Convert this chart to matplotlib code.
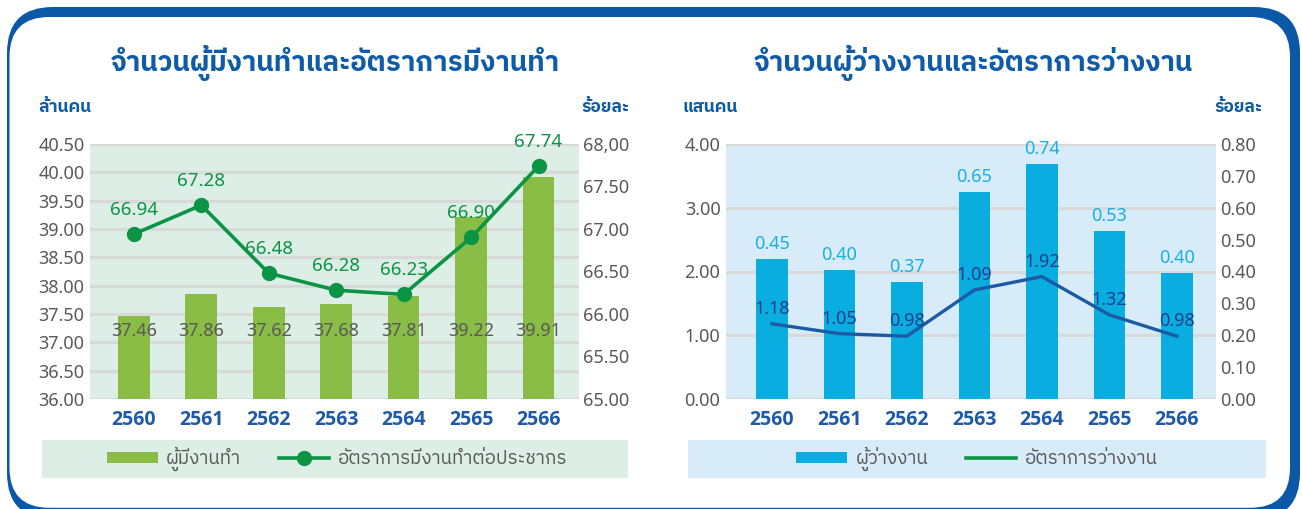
import matplotlib
matplotlib.use('Agg')
import matplotlib.pyplot as plt
import matplotlib.transforms as mtransforms
from matplotlib.patches import FancyBboxPatch, Rectangle, Patch
from matplotlib.lines import Line2D
from matplotlib import font_manager as fm
from matplotlib.ft2font import FT2Font

# ---------------- data ----------------
years = ['2560', '2561', '2562', '2563', '2564', '2565', '2566']

employed = [37.46, 37.86, 37.62, 37.68, 37.81, 39.22, 39.91]          # ล้านคน
employed_labels = ['37.46', '37.86', '37.62', '37.68', '37.81', '39.22', '39.91']
employment_rate = [66.94, 67.28, 66.48, 66.28, 66.23, 66.90, 67.74]   # ร้อยละ
employment_rate_labels = ['66.94', '67.28', '66.48', '66.28', '66.23', '66.90', '67.74']

unemployed = [2.19, 2.02, 1.83, 3.24, 3.69, 2.63, 1.98]               # แสนคน (bar heights)
unemployed_labels = ['0.45', '0.40', '0.37', '0.65', '0.74', '0.53', '0.40']
unemp_rate = [0.236, 0.205, 0.197, 0.342, 0.384, 0.264, 0.197]       # line on right axis
unemp_rate_labels = ['1.18', '1.05', '0.98', '1.09', '1.92', '1.32', '0.98']

left_y1_ticks = [36.0, 36.5, 37.0, 37.5, 38.0, 38.5, 39.0, 39.5, 40.0, 40.5]
left_y1_labels = ['36.00', '36.50', '37.00', '37.50', '38.00', '38.50', '39.00', '39.50', '40.00', '40.50']
left_y2_ticks = [65.0, 65.5, 66.0, 66.5, 67.0, 67.5, 68.0]
left_y2_labels = ['65.00', '65.50', '66.00', '66.50', '67.00', '67.50', '68,00']

right_y1_ticks = [0, 1, 2, 3, 4]
right_y1_labels = ['0.00', '1.00', '2.00', '3.00', '4.00']
right_y2_ticks = [0.0, 0.1, 0.2, 0.3, 0.4, 0.5, 0.6, 0.7, 0.8]
right_y2_labels = ['0.00', '0.10', '0.20', '0.30', '0.40', '0.50', '0.60', '0.70', '0.80']

title_left = 'จำนวนผู้มีงานทำและอัตราการมีงานทำ'
title_right = 'จำนวนผู้ว่างงานและอัตราการว่างงาน'
unit_left1 = 'ล้านคน'
unit_right1 = 'แสนคน'
unit_pct = 'ร้อยละ'
leg_left = ['ผู้มีงานทำ', 'อัตราการมีงานทำต่อประชากร']
leg_right = ['ผู้ว่างงาน', 'อัตราการว่างงาน']

# ---------------- fonts ----------------
thai_fonts = []
for f in fm.fontManager.ttflist:
    try:
        ft = FT2Font(f.fname)
        if ft.get_char_index(0x0E01) and ft.get_char_index(0x0E33):
            thai_fonts.append(f.name)
    except Exception:
        pass
pref = [n for n in thai_fonts if 'Thai' in n and 'Looped' not in n] + thai_fonts
fam = []
if pref:
    fam.append(pref[0])
fam += ['Noto Sans', 'DejaVu Sans']
num_fam = ['Noto Sans', 'DejaVu Sans']
bold_num_fam = ['Open Sans', 'DejaVu Sans']
plt.rcParams['font.family'] = fam

# ---------------- colors ----------------
BLUE = '#0E5CA8'
GREY = '#595959'
GRID = '#D9D9D9'
L_BG = '#DDEEE7'
L_BAR = '#8ABD45'
L_LINE = '#0B9444'
R_BG = '#D7ECF8'
R_BAR = '#0AADE0'
R_BARLBL = '#1AAFE3'
R_LINE = '#1B5BA5'
R_LINELBL = '#1F3F8F'
XTICK = '#1F5AA6'

W, H = 1302, 509
fig = plt.figure(figsize=(W / 100, H / 100), dpi=100)

# background / frame in pixel coords
bg = fig.add_axes([0, 0, 1, 1], zorder=-10)
bg.set_xlim(0, W)
bg.set_ylim(H, 0)
bg.axis('off')
bg.add_patch(FancyBboxPatch((7, 7), 1293, 512, boxstyle='round,pad=0,rounding_size=46',
                            fc='#0B58A6', ec='none'))
bg.add_patch(FancyBboxPatch((9.5, 17), 1280.5, 490.8, boxstyle='round,pad=0,rounding_size=40',
                            fc='white', ec='none'))
bg.add_patch(Rectangle((42, 440), 586, 38, fc=L_BG, ec='none'))
bg.add_patch(Rectangle((688, 440), 578, 38, fc=R_BG, ec='none'))

bg.text(335, 63, title_left, ha='center', va='center', fontsize=20, fontweight='bold', color=BLUE)
bg.text(973, 63, title_right, ha='center', va='center', fontsize=20, fontweight='bold', color=BLUE)
bg.text(38, 107, unit_left1, ha='left', va='center', fontsize=12.5, fontweight='bold', color=BLUE)
bg.text(629, 107, unit_pct, ha='right', va='center', fontsize=12.5, fontweight='bold', color=BLUE)
bg.text(683, 107, unit_right1, ha='left', va='center', fontsize=12.5, fontweight='bold', color=BLUE)
bg.text(1262, 107, unit_pct, ha='right', va='center', fontsize=12.5, fontweight='bold', color=BLUE)


def px_axes(x0, x1, y0, y1):
    return fig.add_axes([x0 / W, 1 - y1 / H, (x1 - x0) / W, (y1 - y0) / H])


def style(ax, ax2, t1, l1, t2, l2, facecolor):
    ax.set_facecolor(facecolor)
    for a in (ax, ax2):
        for s in a.spines.values():
            s.set_visible(False)
        a.tick_params(length=0, labelsize=13, labelcolor=GREY)
    ax.tick_params(axis='y', pad=4)
    ax2.tick_params(axis='y', pad=3)
    ax.tick_params(axis='x', pad=8)
    ax.set_yticks(t1)
    ax.set_yticklabels(l1, fontfamily=num_fam)
    ax2.set_yticks(t2)
    ax2.set_yticklabels(l2, fontfamily=num_fam)
    ax.set_ylim(t1[0], t1[-1])
    ax2.set_ylim(t2[0], t2[-1])
    ax.yaxis.grid(True, color=GRID, lw=2.2)
    ax.set_axisbelow(True)
    ax.set_xticks(range(len(years)))
    ax.set_xticklabels(years, fontsize=14, fontweight='bold', color=XTICK,
                       fontfamily=bold_num_fam)


x = list(range(len(years)))

# ---------------- left chart ----------------
axL = px_axes(90, 579, 144, 399)
axL2 = axL.twinx()
style(axL, axL2, left_y1_ticks, left_y1_labels, left_y2_ticks, left_y2_labels, L_BG)
axL.bar(x, [v - 36.0 for v in employed], bottom=36.0, width=0.47, color=L_BAR, zorder=2)
axL.set_xlim(-0.65, 6.6)
trL = mtransforms.blended_transform_factory(axL.transData, axL.transAxes)
for xi, lbl in zip(x, employed_labels):
    axL.text(xi, 0.267, lbl, transform=trL, ha='center', va='center', fontsize=13,
             color=GREY, fontfamily=num_fam, zorder=4)
axL2.plot(x, employment_rate, color=L_LINE, lw=2.6, marker='o', ms=10, zorder=3)
for xi, v, lbl in zip(x, employment_rate, employment_rate_labels):
    axL2.annotate(lbl, (xi, v), xytext=(0, 24), textcoords='offset pixels', ha='center',
                  va='center', fontsize=13.5, color=L_LINE, fontfamily=num_fam)

# ---------------- right chart ----------------
axR = px_axes(726, 1216, 144, 399)
axR2 = axR.twinx()
style(axR, axR2, right_y1_ticks, right_y1_labels, right_y2_ticks, right_y2_labels, R_BG)
axR.bar(x, unemployed, width=0.47, color=R_BAR, zorder=2)
axR.set_xlim(-0.68, 6.58)
for xi, v, lbl in zip(x, unemployed, unemployed_labels):
    axR.annotate(lbl, (xi, v), xytext=(0, 15), textcoords='offset pixels', ha='center',
                 va='center', fontsize=13, color=R_BARLBL, fontfamily=num_fam)
axR2.plot(x, unemp_rate, color=R_LINE, lw=2.4, zorder=3)
for xi, v, lbl in zip(x, unemp_rate, unemp_rate_labels):
    axR2.annotate(lbl, (xi, v), xytext=(0, 15), textcoords='offset pixels', ha='center',
                  va='center', fontsize=13, color=R_LINELBL, fontfamily=num_fam)

for ax in (axL, axR):
    for t in ax.get_xticklabels():
        t.set_fontfamily(bold_num_fam)
        t.set_fontweight('bold')
        t.set_color(XTICK)
        t.set_fontsize(14)

# ---------------- legends ----------------
hL = [Patch(fc=L_BAR, ec='none'),
      Line2D([], [], color=L_LINE, lw=2.6, marker='o', ms=10)]
fig.legend(hL, leg_left, loc='center', bbox_to_anchor=(337 / W, 1 - 459 / H), ncol=2,
           frameon=False, fontsize=13.5, handlelength=2.7, handleheight=0.55,
           columnspacing=2.0, handletextpad=0.45, labelcolor=GREY)
hR = [Patch(fc=R_BAR, ec='none'),
      Line2D([], [], color=L_LINE, lw=2.6)]
fig.legend(hR, leg_right, loc='center', bbox_to_anchor=(977 / W, 1 - 459 / H), ncol=2,
           frameon=False, fontsize=13.5, handlelength=2.7, handleheight=0.55,
           columnspacing=2.0, handletextpad=0.45, labelcolor=GREY)

fig.savefig('out.png', dpi=100)
